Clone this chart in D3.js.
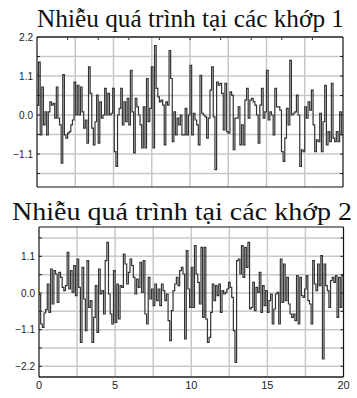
<!DOCTYPE html>
<html><head><meta charset="utf-8">
<script src="https://cdn.jsdelivr.net/npm/d3@7"></script>
<style>body{margin:0;background:#fff;} svg{display:block;}</style>
</head><body>
<svg id="chart" width="357" height="398"></svg>
<script>
const titles = ["Nhiễu quá trình tại các khớp 1", "Nhiễu quá trình tại các khớp 2"];

// Joint 1 noise, t = 0..10 s and t = 10..20 s
const joint1FirstHalf = [
 0.27, 1.49, -0.56, 0.79, -0.28, 0.09, -0.56, 0.09, 0.37, 0.28,
 0.33, -0.09, 0.79, -0.09, -0.28, -1.36, 1.14, -0.56, -0.65, -0.51,
 -0.47, -0.28, -0.14, 0.93, 0.0, 0.84, 0.0, 0.79, 0.09, -0.37,
 -0.14, -0.79, 1.36, 0.61, -0.37, -0.84, -0.19, 0.56, -0.79, 0.37,
 -0.09, 0.0, 0.75, 0.0, 0.61, 0.0, 0.05, 0.75, -1.03, -1.45,
 0.0, 0.19, 0.75, -0.28, 0.37, -0.19, 0.47, -0.28, 1.26, 0.09,
 -1.07, 0.47, 0.23, 0.0, -0.28, -0.93, 0.23, -0.93, 1.03, -0.19,
 0.19, 1.36, -0.93, 1.96, 0.75, 0.51, 0.37, 0.42, 0.28, -0.84,
 0.37, 0.28, 1.82, 1.03, -0.75, 0.09, -0.56, -0.09, -0.28, 0.0,
 -0.56, -0.56, 0.19, -0.56, 0.0
];
const joint1SecondHalf = [
 1.40, -0.56, 0.05, -0.14, -0.28, -0.84, 1.12, 0.05, 0.0, -0.05,
 -0.65, -0.09, 0.70, 1.36, -0.05, -1.54, 0.93, 0.84, 0.89, 0.61,
 -0.42, 0.89, -0.47, -0.51, 0.65, 0.56, -0.98, -0.09, -0.09, 0.23,
 -0.84, -0.28, -0.84, 0.42, 0.75, -0.09, 0.42, 0.47, 0.37, 0.28,
 0.0, -0.79, 0.28, 0.75, -0.09, 0.09, 1.26, -0.14, 0.09, 0.0,
 -0.56, 0.75, 0.23, 0.23, 0.14, -1.03, -1.31, -0.65, 0.19, -0.28,
 1.54, 0.0, 0.05, 0.09, 0.56, 0.0, -1.45, -0.98, -1.03, 0.23,
 -0.09, 0.37, 0.14, 0.70, -0.28, -1.03, -0.70, -0.75, 0.05, -1.03,
 -0.19, 0.84, -0.84, -0.47, -0.75, 0.89, -0.65, -0.75, -0.47, -0.75,
 0.09, -0.56
];
// Joint 2 noise
const joint2FirstHalf = [
 -0.05, -0.93, -1.03, -0.6, -0.5, 0.27, -0.58, 0.72, -0.33, 0.67,
 0.57, -0.28, 0.62, 0.47, 0.17, 0.07, 0.22, 1.22, 0.12, 0.67,
 0.02, 0.82, -0.08, 1.02, 0.17, -1.48, 0.77, -0.18, -1.13, 0.97,
 -0.43, -0.23, -1.48, -0.73, 0.22, -1.18, 0.72, -0.03, 0.07, -0.63,
 0.97, 1.52, -0.03, -0.63, -0.93, 0.67, -0.88, 0.27, -0.78, 0.22,
 0.17, 1.17, 0.87, 0.27, 0.62, 1.02, 0.82, 0.47, -0.03, 0.42,
 0.17, 0.92, 0.02, 0.97, -0.63, -0.93, 0.47, -0.18, 0.12, -0.38,
 0.27, -0.23, 0.12, -0.38, 0.27, 0.07, -0.23, -0.03, -0.83, -1.43,
 -0.53, 0.07, 0.27, 0.47, 0.22, 0.67, 0.77, 0.57, -1.38, 1.27,
 0.12, -0.43
];
const joint2SecondHalf = [
 0.77, -0.43, 1.42, 0.57, 0.32, -0.33, 1.37, -0.73, 1.37, -0.78,
 -1.48, -1.33, -0.58, 0.27, -0.23, 0.22, -0.08, 0.27, -0.58, 0.07,
 -0.03, 0.02, 0.12, 0.32, 0.17, -0.13, -1.13, -2.08, 0.97, 1.02,
 0.57, 1.42, 0.47, 1.37, 0.77, 1.52, -0.48, -0.43, 0.32, -0.53,
 0.17, 0.02, 0.62, -0.58, 0.22, -0.38, 0.07, -0.58, -0.23, -0.03,
 -0.93, -0.48, -0.03, 0.02, -0.93, 1.02, -0.28, 0.87, -0.23, 0.47,
 -0.33, -0.63, -0.73, -0.63, -0.83, 0.52, -0.93, 0.47, -0.08, -0.13,
 0.12, 0.52, -0.23, -0.33, -0.93, 0.97, 0.27, 0.07, 0.87, 0.22,
 1.12, -1.98, 0.87, 0.22, 0.07, -0.43, 0.37, 0.47, 0.32, 0.52,
 -0.73, 0.47, -0.43, 0.52
];

const xTicks = [0, 5, 10, 15, 20];
const yTicks1 = [2.2, 1.1, 0.0, -1.1];
const yTicks2 = [1.1, 0.0, -1.1, -2.2];
const gridStepX = 2.5, gridStepY = 0.55, topTickStep = 2;

function buildSeries(first, second) {
  const pts = [];
  first.forEach((v, i) => pts.push([10 * i / first.length, v]));
  second.forEach((v, i) => pts.push([10 + 10 * i / second.length, v]));
  pts.push([20, second[second.length - 1]]);
  return pts;
}

const panels = [
  { title: titles[0], data: buildSeries(joint1FirstHalf, joint1SecondHalf), yTicks: yTicks1,
    yDomain: [-2.03, 2.2], box: { l: 37, r: 343, t: 37, b: 187 },
    titleX: 37, titleY: 27, titleLen: 307, xLabels: false, topTicks: true, heavy: "top" },
  { title: titles[1], data: buildSeries(joint2FirstHalf, joint2SecondHalf), yTicks: yTicks2,
    yDomain: [-2.52, 1.98], box: { l: 39, r: 343.5, t: 227, b: 377 },
    titleX: 12, titleY: 220, titleLen: 340, xLabels: true, topTicks: false, heavy: "bottom" }
];

const svg = d3.select("#chart");
const sans = "'Liberation Sans', Arial, sans-serif";
const serif = "'Liberation Serif', 'Times New Roman', serif";

panels.forEach((p, idx) => {
  const b = p.box;
  const x = d3.scaleLinear().domain([0, 20]).range([b.l, b.r]);
  const y = d3.scaleLinear().domain(p.yDomain).range([b.b, b.t]);
  const g = svg.append("g");

  // grid
  const hg = d3.range(Math.ceil(p.yDomain[0] / gridStepY - 1e-6), Math.floor(p.yDomain[1] / gridStepY + 1e-6) + 1)
    .map(k => k * gridStepY);
  g.selectAll(".hg").data(hg).enter().append("line")
    .attr("x1", b.l).attr("x2", b.r).attr("y1", d => y(d)).attr("y2", d => y(d))
    .attr("stroke", "#c8c8c8").attr("stroke-width", 1.5);
  const vg = d3.range(1, 8).map(k => k * gridStepX);
  g.selectAll(".vg").data(vg).enter().append("line")
    .attr("y1", b.t).attr("y2", b.b).attr("x1", d => x(d)).attr("x2", d => x(d))
    .attr("stroke", "#c8c8c8").attr("stroke-width", 1.5);

  // side ticks
  g.selectAll(".rt").data(hg).enter().append("line")
    .attr("x1", b.r - 3).attr("x2", b.r).attr("y1", d => y(d)).attr("y2", d => y(d))
    .attr("stroke", "#222").attr("stroke-width", 1);
  g.selectAll(".lt").data(hg).enter().append("line")
    .attr("x1", b.l).attr("x2", b.l + 3).attr("y1", d => y(d)).attr("y2", d => y(d))
    .attr("stroke", "#222").attr("stroke-width", 1);
  if (p.topTicks) {
    g.selectAll(".tt").data(d3.range(1, 10).map(k => k * topTickStep)).enter().append("line")
      .attr("x1", d => x(d)).attr("x2", d => x(d)).attr("y1", b.t).attr("y2", b.t + 3)
      .attr("stroke", "#222").attr("stroke-width", 1);
  }

  // trace
  const clipId = "clip" + idx;
  svg.append("clipPath").attr("id", clipId).append("rect")
    .attr("x", b.l).attr("y", b.t).attr("width", b.r - b.l).attr("height", b.b - b.t);
  const line = d3.line().x(d => x(d[0])).y(d => y(d[1])).curve(d3.curveStepAfter);
  g.append("path").datum(p.data).attr("d", line).attr("clip-path", `url(#${clipId})`)
    .attr("fill", "none").attr("stroke", "#333").attr("stroke-width", 1.2)
    .attr("stroke-linejoin", "miter");

  // frame
  const edge = (x1, y1, x2, y2, heavy) => g.append("line").attr("x1", x1).attr("y1", y1).attr("x2", x2).attr("y2", y2)
    .attr("stroke", heavy ? "#555" : "#111").attr("stroke-width", heavy ? 2.2 : 1.2);
  edge(b.l, b.t, b.r, b.t, p.heavy === "top");
  edge(b.l, b.b, b.r, b.b, p.heavy === "bottom");
  edge(b.l, b.t, b.l, b.b, false);
  edge(b.r, b.t, b.r, b.b, false);

  // y labels
  g.selectAll(".yl").data(p.yTicks).enter().append("text")
    .attr("x", b.l - 4).attr("y", d => y(d)).attr("dy", "0.35em")
    .attr("text-anchor", "end").attr("font-family", sans).attr("font-size", 10).attr("fill", "#222")
    .text(d => d3.format(".1f")(d));

  // x labels
  if (p.xLabels) {
    g.selectAll(".xl").data(xTicks).enter().append("text")
      .attr("x", d => x(d)).attr("y", b.b + 8.5).attr("dy", "0.35em")
      .attr("text-anchor", "middle").attr("font-family", sans).attr("font-size", 11).attr("fill", "#222")
      .text(d => d);
  }

  // title
  svg.append("text").attr("x", p.titleX).attr("y", p.titleY)
    .attr("font-family", serif).attr("font-size", 25).attr("fill", "#111")
    .attr("textLength", p.titleLen).attr("lengthAdjust", "spacingAndGlyphs")
    .text(p.title);
});
</script>
</body></html>
